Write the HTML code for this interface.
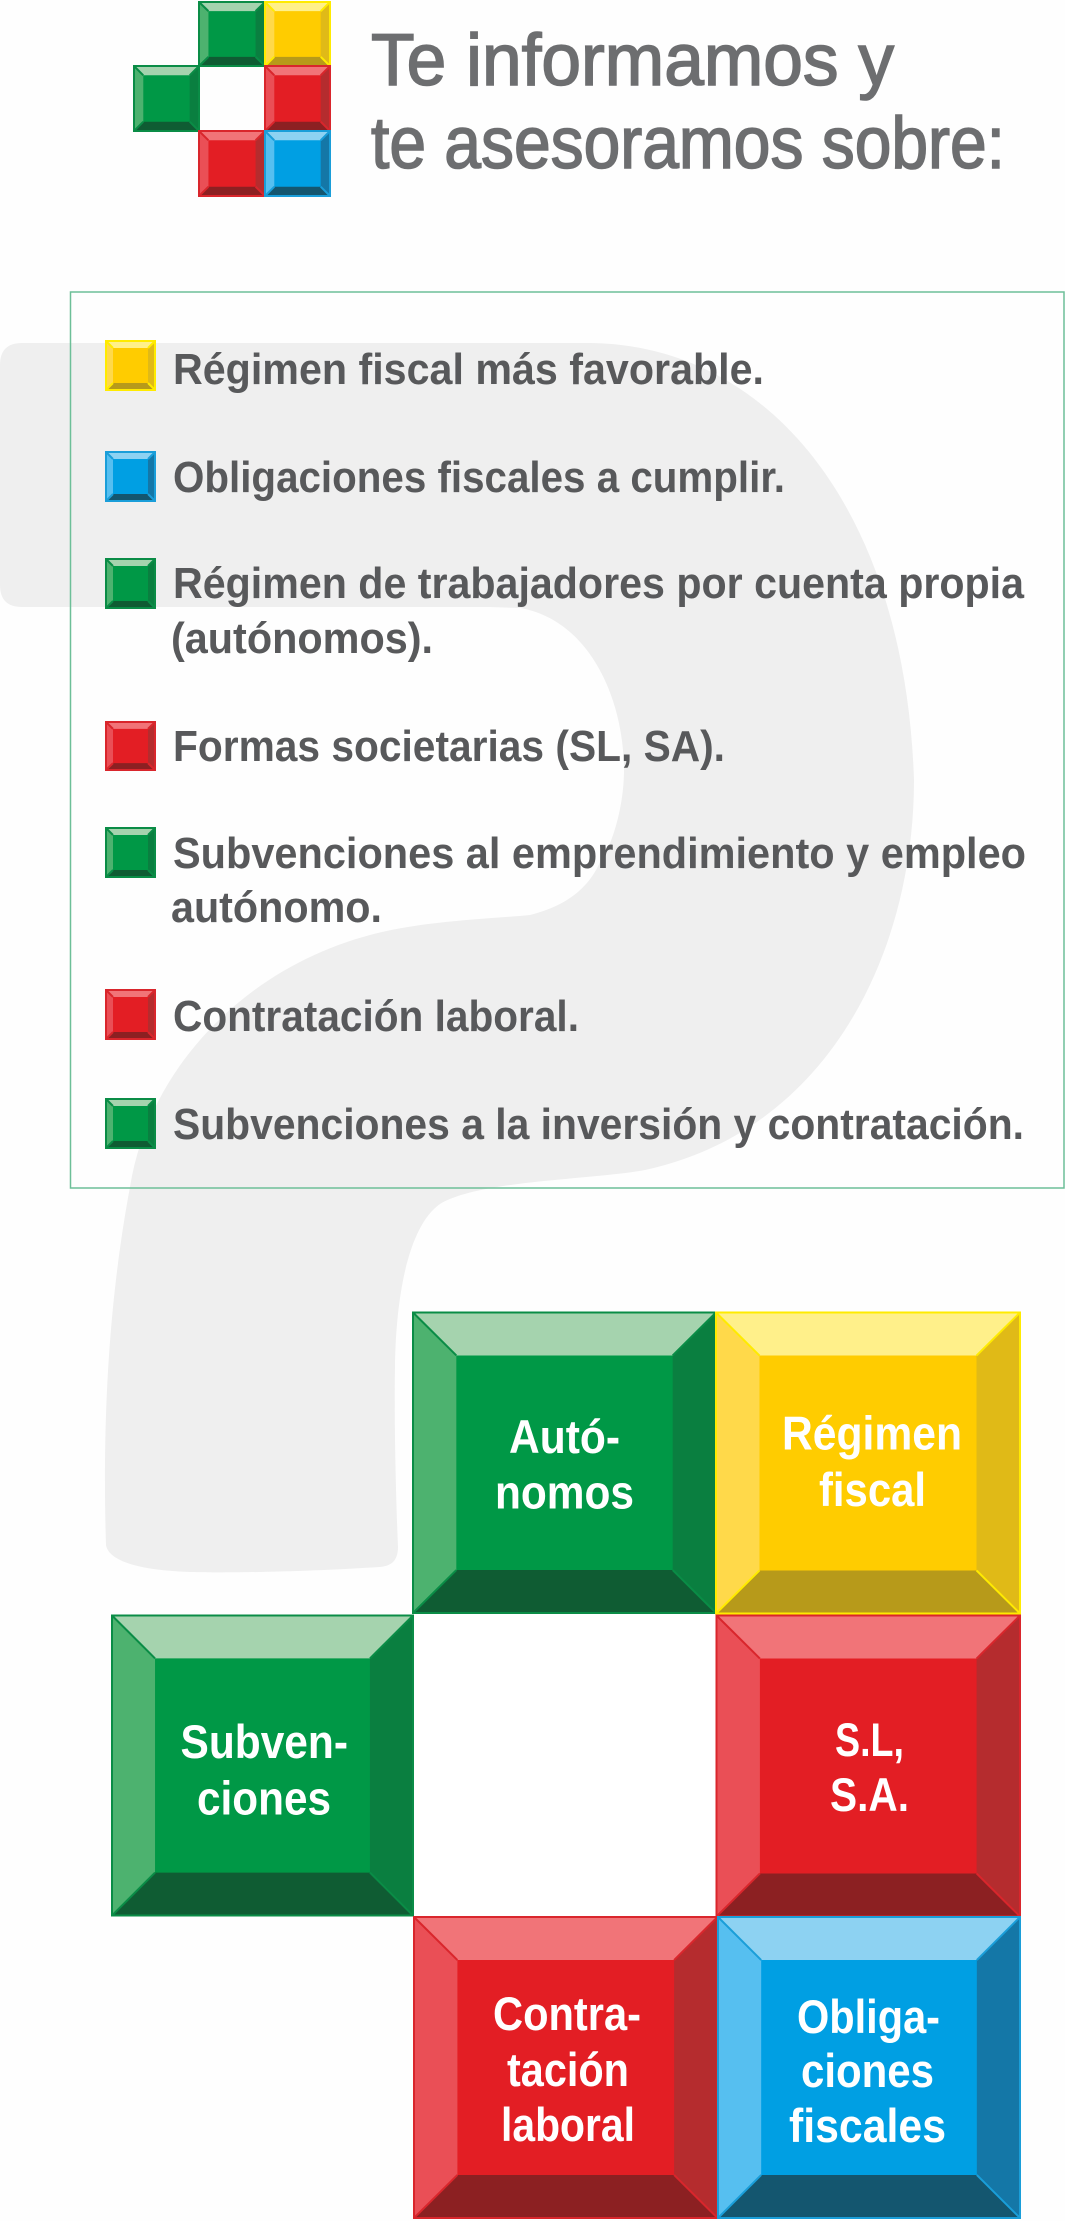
<!DOCTYPE html>
<html lang="es">
<head>
<meta charset="utf-8">
<title>Te informamos y te asesoramos sobre</title>
<style>
html,body{margin:0;padding:0;background:#fff;}
svg{display:block;}
symbol{overflow:visible;}
text{font-family:"Liberation Sans",sans-serif;}
.h{font-size:73px;fill:#6d6e70;stroke:#6d6e70;stroke-width:1.6px;}
.l{font-size:44px;font-weight:700;fill:#58595b;}
.t{font-size:47px;font-weight:700;fill:#fff;}
</style>
</head>
<body>
<svg xmlns="http://www.w3.org/2000/svg" width="1065" height="2221" viewBox="0 0 1065 2221">
<defs>
<symbol id="g" viewBox="0 0 100 100" preserveAspectRatio="none" style="overflow:visible">
<rect width="100" height="100" fill="#009846"/>
<polygon points="0,0 100,0 85.7,14.3 14.3,14.3" fill="#a5d3ae"/>
<polygon points="0,0 14.3,14.3 14.3,85.7 0,100" fill="#4db26f"/>
<polygon points="100,0 85.7,14.3 85.7,85.7 100,100" fill="#0a7f40"/>
<polygon points="0,100 14.3,85.7 85.7,85.7 100,100" fill="#0f5c33"/>
<path d="M0 0L14.3 14.3M100 0L85.7 14.3M0 100L14.3 85.7M100 100L85.7 85.7M0 0H100V100H0Z" fill="none" stroke="#0a8c46" stroke-width="2" vector-effect="non-scaling-stroke"/>
</symbol>
<symbol id="y" viewBox="0 0 100 100" preserveAspectRatio="none" style="overflow:visible">
<rect width="100" height="100" fill="#ffcc00"/>
<polygon points="0,0 100,0 85.7,14.3 14.3,14.3" fill="#fff08a"/>
<polygon points="0,0 14.3,14.3 14.3,85.7 0,100" fill="#ffd94a"/>
<polygon points="100,0 85.7,14.3 85.7,85.7 100,100" fill="#e0ba17"/>
<polygon points="0,100 14.3,85.7 85.7,85.7 100,100" fill="#b79a1a"/>
<path d="M0 0L14.3 14.3M100 0L85.7 14.3M0 100L14.3 85.7M100 100L85.7 85.7M0 0H100V100H0Z" fill="none" stroke="#ffeb00" stroke-width="2" vector-effect="non-scaling-stroke"/>
</symbol>
<symbol id="r" viewBox="0 0 100 100" preserveAspectRatio="none" style="overflow:visible">
<rect width="100" height="100" fill="#e31e24"/>
<polygon points="0,0 100,0 85.7,14.3 14.3,14.3" fill="#f17478"/>
<polygon points="0,0 14.3,14.3 14.3,85.7 0,100" fill="#ea4f56"/>
<polygon points="100,0 85.7,14.3 85.7,85.7 100,100" fill="#b52c2e"/>
<polygon points="0,100 14.3,85.7 85.7,85.7 100,100" fill="#8c2022"/>
<path d="M0 0L14.3 14.3M100 0L85.7 14.3M0 100L14.3 85.7M100 100L85.7 85.7M0 0H100V100H0Z" fill="none" stroke="#d9262c" stroke-width="2" vector-effect="non-scaling-stroke"/>
</symbol>
<symbol id="b" viewBox="0 0 100 100" preserveAspectRatio="none" style="overflow:visible">
<rect width="100" height="100" fill="#009fe3"/>
<polygon points="0,0 100,0 85.7,14.3 14.3,14.3" fill="#8dd2f2"/>
<polygon points="0,0 14.3,14.3 14.3,85.7 0,100" fill="#56bff0"/>
<polygon points="100,0 85.7,14.3 85.7,85.7 100,100" fill="#1477a7"/>
<polygon points="0,100 14.3,85.7 85.7,85.7 100,100" fill="#14566f"/>
<path d="M0 0L14.3 14.3M100 0L85.7 14.3M0 100L14.3 85.7M100 100L85.7 85.7M0 0H100V100H0Z" fill="none" stroke="#1a9ed9" stroke-width="2" vector-effect="non-scaling-stroke"/>
</symbol>
</defs>

<rect width="1065" height="2221" fill="#fefefe"/>

<!-- background question mark -->
<path fill="#efefef" d="M22 343H590C770 345 905 510 914 780C914 950 830 1130 645 1170C590 1180 480 1180 440 1204C410 1225 396 1290 395 1367C394 1420 396 1500 398 1547C398 1562 390 1566 380 1567C300 1572 230 1573 190 1572C130 1570 108 1558 106 1545C103 1450 105 1320 130 1187C150 1060 260 950 408 927C450 920 500 918 530 915C570 905 590 885 600 862C610 850 624 810 624 770C624 700 590 620 520 608L489 607H22Q0 607 0 585V365Q0 343 22 343Z"/>

<!-- header logo -->
<use href="#g" x="199" y="2" width="66" height="64"/>
<use href="#y" x="265" y="2" width="65" height="64"/>
<use href="#g" x="134" y="66" width="65" height="65"/>
<use href="#r" x="265" y="66" width="65" height="65"/>
<use href="#r" x="199" y="131" width="66" height="65"/>
<use href="#b" x="265" y="131" width="65" height="65"/>

<!-- heading -->
<text class="h" x="371" y="85" textLength="523" lengthAdjust="spacingAndGlyphs">Te informamos y</text>
<text class="h" x="371" y="168" textLength="634" lengthAdjust="spacingAndGlyphs">te asesoramos sobre:</text>

<!-- list box -->
<rect x="70.5" y="292" width="993.5" height="896" fill="none" stroke="#6dbf98" stroke-width="1.5"/>

<use href="#y" x="106" y="341" width="49" height="49"/>
<use href="#b" x="106" y="452" width="49" height="49"/>
<use href="#g" x="106" y="559" width="49" height="49"/>
<use href="#r" x="106" y="722" width="49" height="48"/>
<use href="#g" x="106" y="828" width="49" height="49"/>
<use href="#r" x="106" y="990" width="49" height="49"/>
<use href="#g" x="106" y="1099" width="49" height="49"/>

<text class="l" x="173" y="384" textLength="591" lengthAdjust="spacingAndGlyphs">Régimen fiscal más favorable.</text>
<text class="l" x="173" y="492" textLength="612" lengthAdjust="spacingAndGlyphs">Obligaciones fiscales a cumplir.</text>
<text class="l" x="173" y="598" textLength="851" lengthAdjust="spacingAndGlyphs">Régimen de trabajadores por cuenta propia</text>
<text class="l" x="171" y="653" textLength="262" lengthAdjust="spacingAndGlyphs">(autónomos).</text>
<text class="l" x="173" y="761" textLength="552" lengthAdjust="spacingAndGlyphs">Formas societarias (SL, SA).</text>
<text class="l" x="173" y="868" textLength="853" lengthAdjust="spacingAndGlyphs">Subvenciones al emprendimiento y empleo</text>
<text class="l" x="171" y="922" textLength="211" lengthAdjust="spacingAndGlyphs">autónomo.</text>
<text class="l" x="173" y="1031" textLength="406" lengthAdjust="spacingAndGlyphs">Contratación laboral.</text>
<text class="l" x="173" y="1139" textLength="851" lengthAdjust="spacingAndGlyphs">Subvenciones a la inversión y contratación.</text>

<!-- big tiles -->
<rect x="413" y="1614" width="304" height="303" fill="#fff"/>
<use href="#g" x="413" y="1312.5" width="303" height="300.5"/>
<use href="#y" x="716" y="1312.5" width="304" height="301"/>
<use href="#g" x="112" y="1615.5" width="301" height="300"/>
<use href="#r" x="716.5" y="1615.5" width="303.5" height="301"/>
<use href="#r" x="414" y="1917" width="303.5" height="301"/>
<use href="#b" x="718" y="1917" width="302" height="301"/>

<text class="t" x="509" y="1453" textLength="111" lengthAdjust="spacingAndGlyphs">Autó-</text>
<text class="t" x="495" y="1508.5" textLength="139" lengthAdjust="spacingAndGlyphs">nomos</text>
<text class="t" x="782" y="1449.5" textLength="180" lengthAdjust="spacingAndGlyphs">Régimen</text>
<text class="t" x="819" y="1506" textLength="107" lengthAdjust="spacingAndGlyphs">fiscal</text>
<text class="t" x="180.5" y="1758" textLength="167.5" lengthAdjust="spacingAndGlyphs">Subven-</text>
<text class="t" x="197" y="1814.5" textLength="134" lengthAdjust="spacingAndGlyphs">ciones</text>
<text class="t" x="835" y="1756" textLength="69" lengthAdjust="spacingAndGlyphs">S.L,</text>
<text class="t" x="830" y="1811" textLength="79" lengthAdjust="spacingAndGlyphs">S.A.</text>
<text class="t" x="493" y="2030" textLength="148" lengthAdjust="spacingAndGlyphs">Contra-</text>
<text class="t" x="507" y="2086" textLength="122" lengthAdjust="spacingAndGlyphs">tación</text>
<text class="t" x="501" y="2141" textLength="134" lengthAdjust="spacingAndGlyphs">laboral</text>
<text class="t" x="797" y="2033" textLength="143" lengthAdjust="spacingAndGlyphs">Obliga-</text>
<text class="t" x="801" y="2087" textLength="133" lengthAdjust="spacingAndGlyphs">ciones</text>
<text class="t" x="789" y="2142" textLength="157" lengthAdjust="spacingAndGlyphs">fiscales</text>
</svg>
</body>
</html>
